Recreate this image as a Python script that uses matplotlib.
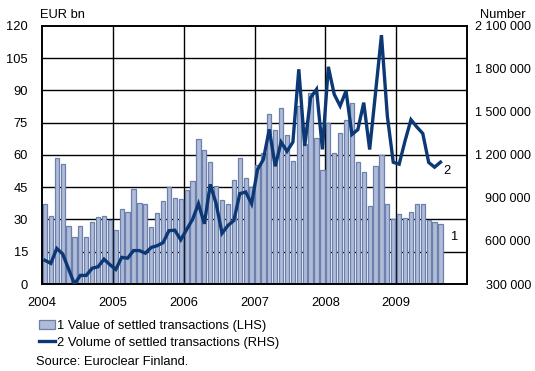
import numpy as np
import matplotlib.pyplot as plt
from matplotlib.patches import Patch
from matplotlib.lines import Line2D
from matplotlib.ticker import FuncFormatter

plt.rcParams['font.family'] = ['Liberation Sans', 'DejaVu Sans']
plt.rcParams['font.size'] = 9.3

# Monthly data, Jan 2004 - Aug 2009
value_eur_bn = [
    37, 31.6, 58.5, 56, 27, 22, 27, 22, 29, 31, 31.7, 29.7,          # 2004
    25, 34.7, 33.6, 44, 37.8, 37.3, 26.7, 33, 38.7, 45, 39.8, 39.6,   # 2005
    43.7, 47.9, 67.6, 62.2, 56.8, 45.4, 38.9, 37, 48.2, 58.8, 49.5, 45,  # 2006
    55.5, 61, 79, 71.5, 82, 69.5, 57.4, 82.6, 65, 89, 68, 53,         # 2007
    75, 61, 70.4, 76.4, 84, 56.6, 52.3, 36.1, 54.7, 60.2, 37.3, 30.2,  # 2008
    32.7, 30.5, 33.4, 37, 37, 29.7, 28.9, 28,                         # 2009
]
volume_number = [
    465000, 444000, 548000, 510000, 405000, 300000, 360000, 360000, 410000, 420000, 473000, 435000,
    402000, 486000, 480000, 533000, 533000, 515000, 555000, 567000, 588000, 672000, 675000, 608000,
    680000, 750000, 860000, 720000, 995000, 860000, 654000, 708000, 743000, 930000, 942000, 860000,
    1098000, 1169000, 1379000, 1121000, 1290000, 1226000, 1290000, 1798000, 1263000, 1600000, 1658000, 1239000,
    1815000, 1623000, 1542000, 1647000, 1343000, 1377000, 1565000, 1238000, 1635000, 2036000, 1470000, 1149000,
    1136000, 1299000, 1446000, 1395000, 1350000, 1148000, 1115000, 1150000,
]
years = [2004, 2005, 2006, 2007, 2008, 2009]
months = 2004 + (np.arange(len(value_eur_bn)) + 0.5) / 12

bar_face = '#b0bbd6'
bar_edge = '#6a80ae'
line_col = '#0c3876'

fig = plt.figure(figsize=(5.35, 3.71), dpi=100)
ax = fig.add_axes([0.0785, 0.2345, 0.7945, 0.6955])
ax2 = ax.twinx()

# grid behind the bars
for y in np.arange(15, 120, 15):
    ax.axhline(y, color='black', lw=1.0, zorder=0)
for yr in years[1:]:
    ax.axvline(yr, color='black', lw=1.0, zorder=0)

ax.bar(months, value_eur_bn, width=0.72 / 12, color=bar_face,
       edgecolor=bar_edge, linewidth=0.9, zorder=2)
ax2.plot(months, volume_number, color=line_col, lw=2.4, solid_joinstyle='miter', zorder=3)

ax.set_xlim(2004, 2010)
ax.set_ylim(0, 120)
ax2.set_ylim(300000, 2100000)
ax.set_yticks(np.arange(0, 121, 15))
ax2.set_yticks(np.arange(300000, 2100001, 300000))
ax2.yaxis.set_major_formatter(FuncFormatter(lambda v, p: f'{int(v):,}'.replace(',', ' ')))
ax.set_xticks(years)
ax.set_xticklabels([str(y) for y in years])

ax.tick_params(axis='y', length=0, pad=10)
# right-hand labels are right aligned against the figure edge
ax2.tick_params(axis='y', length=0, pad=46, labelsize=9)
for lab in ax2.get_yticklabels():
    lab.set_horizontalalignment('right')
ax.tick_params(axis='x', direction='in', length=3, pad=9, color='black')
for a in (ax, ax2):
    for s in a.spines.values():
        s.set_linewidth(1.2)
        s.set_color('black')
ax2.patch.set_visible(False)

# series numbers next to the last observations
ax.text(2009.78, 22, '1', va='center')
ax2.text(2009.66, 1085000, '2', va='center')

fig.text(40 / 535, 1 - 15 / 371, 'EUR bn', va='center', ha='left')
fig.text(526 / 535, 1 - 15 / 371, 'Number', va='center', ha='right')

handles = [Patch(facecolor=bar_face, edgecolor=bar_edge, linewidth=0.9),
           Line2D([0], [0], color=line_col, lw=2.4)]
labels = ['1 Value of settled transactions (LHS)', '2 Volume of settled transactions (RHS)']
fig.legend(handles, labels, loc='upper left', bbox_to_anchor=(39 / 535, 1 - 320 / 371),
           frameon=False, handlelength=1.2, handleheight=0.6,
           handletextpad=0.2, labelspacing=0.36, borderaxespad=0, borderpad=0)
fig.text(36 / 535, 1 - 362 / 371, 'Source: Euroclear Finland.', va='center')

fig.savefig('out.png', dpi=100)
